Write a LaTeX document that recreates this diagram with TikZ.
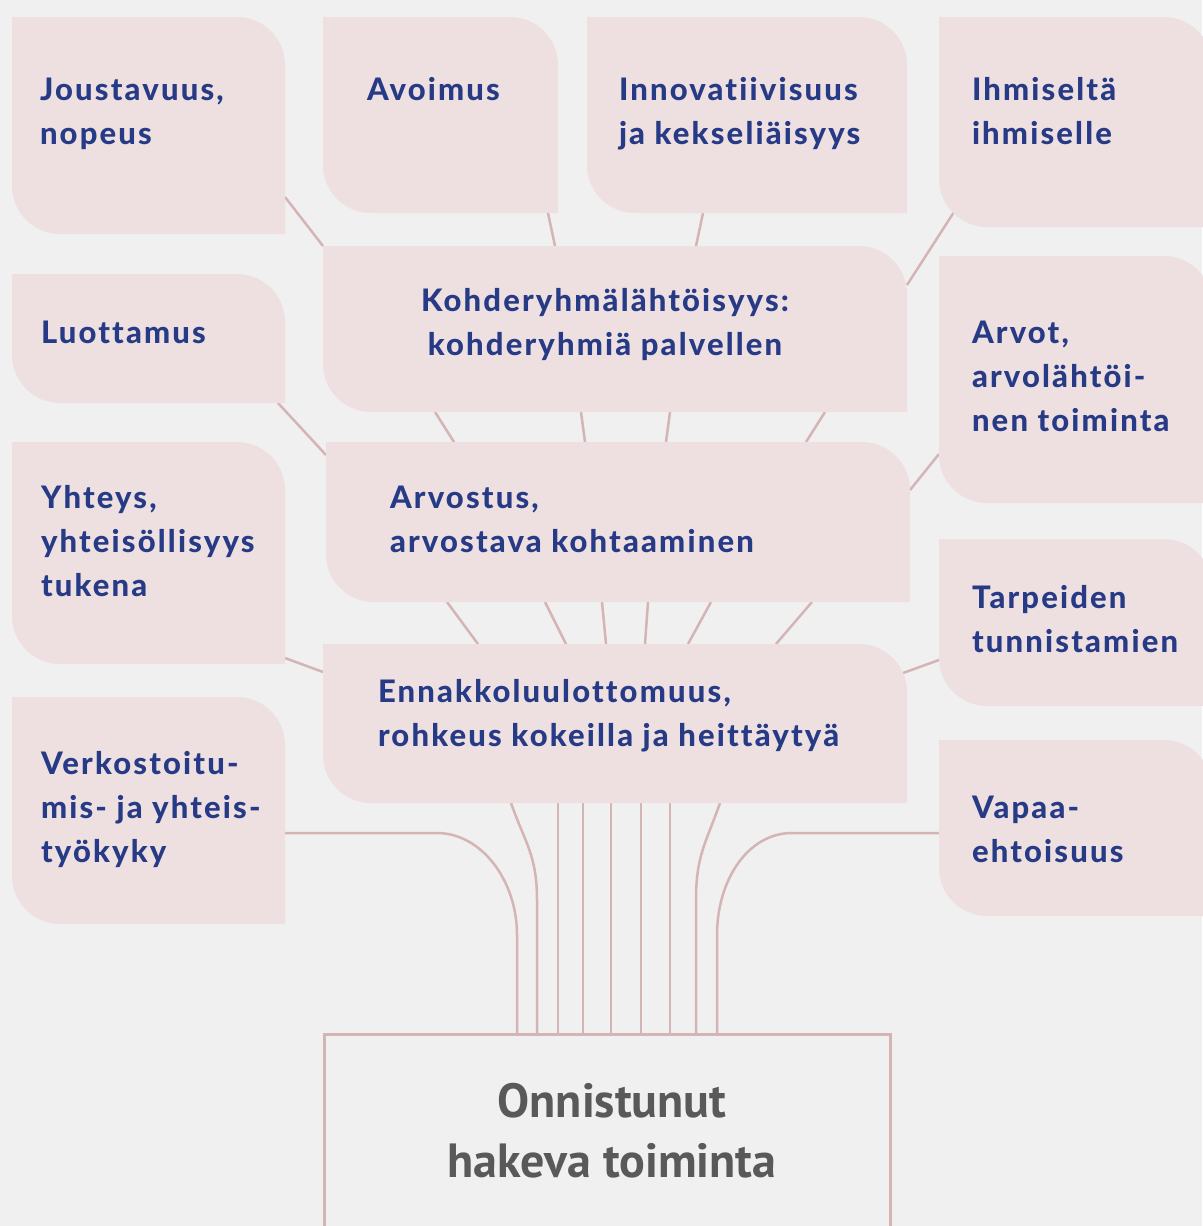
\documentclass[tikz,border=0pt]{standalone}
\usepackage{fontspec}
\setmainfont{Lato}[LetterSpace=7,Ligatures=NoCommon,BoldFont={Lato Heavy}]
\newfontfamily\onnfont{PT Sans}
\usetikzlibrary{calc}
\definecolor{bg}{HTML}{F0F0F0}
\definecolor{boxfill}{HTML}{EEE0E1}
\definecolor{txtblue}{HTML}{263A86}
\definecolor{conn}{HTML}{D5B4B6}
\definecolor{onngray}{HTML}{595959}
\newcommand\leafshape[1]{%
  \fill[boxfill] (#1.north west) -- ([xshift=-48pt]#1.north east)
    arc[start angle=90,end angle=0,radius=48pt] -- (#1.south east)
    -- ([xshift=48pt]#1.south west)
    arc[start angle=270,end angle=180,radius=48pt] -- cycle;}
\begin{document}
\begin{tikzpicture}[x=1pt,y=-1pt,
  boxn/.style={inner sep=0pt,outer sep=0pt,anchor=north west,draw=none},
  lbl/.style={inner sep=0pt,outer sep=0pt,anchor=base west,align=left,text=txtblue,
    font=\fontsize{31}{44}\selectfont\bfseries},
  lblc/.style={lbl,anchor=base,align=center},
  wire/.style={draw=conn,line width=2.5pt}]
\fill[bg] (0,0) rectangle (1202,1226);
\useasboundingbox (0,0) rectangle (1202,1226);
% box frames
\node[boxn,minimum width=273pt,minimum height=217pt] (jou) at (12,17) {};
\node[boxn,minimum width=235pt,minimum height=196pt] (avo) at (323,17) {};
\node[boxn,minimum width=320pt,minimum height=196pt] (inn) at (587,17) {};
\node[boxn,minimum width=273pt,minimum height=210pt] (ihm) at (939,17) {};
\node[boxn,minimum width=273pt,minimum height=129pt] (luo) at (12,274) {};
\node[boxn,minimum width=584pt,minimum height=166pt] (koh) at (323,246) {};
\node[boxn,minimum width=273pt,minimum height=247pt] (arv) at (939,256) {};
\node[boxn,minimum width=584pt,minimum height=160pt] (ars) at (326,442) {};
\node[boxn,minimum width=273pt,minimum height=222pt] (yht) at (12,442) {};
\node[boxn,minimum width=273pt,minimum height=167pt] (tar) at (939,539) {};
\node[boxn,minimum width=584pt,minimum height=159pt] (enn) at (323,644) {};
\node[boxn,minimum width=273pt,minimum height=227pt] (ver) at (12,697) {};
\node[boxn,minimum width=273pt,minimum height=176pt] (vap) at (939,740) {};
\node[boxn,minimum width=566pt,minimum height=216pt] (onn) at (324,1034) {};
% connectors
\draw[wire] ($(jou.south east)+(0,-37)$) -- (koh.north west);
\draw[wire] ($(avo.south west)+(225,0)$) -- ($(koh.north west)+(232,0)$);
\draw[wire] ($(inn.south west)+(116,0)$) -- ($(koh.north west)+(373,0)$);
\draw[wire] ($(ihm.south west)+(15,-15)$) -- ($(koh.north east)+(0,39)$);
\draw[wire] ($(luo.south east)+(-7,0)$) -- ($(ars.north west)+(0,13)$);
\draw[wire] ($(koh.south west)+(112,0)$) -- ($(ars.north west)+(128,0)$);
\draw[wire] ($(koh.south west)+(258,0)$) -- ($(ars.north west)+(259,0)$);
\draw[wire] ($(koh.south west)+(347,0)$) -- ($(ars.north west)+(340,0)$);
\draw[wire] ($(koh.south west)+(502,0)$) -- ($(ars.north west)+(480,0)$);
\draw[wire] ($(arv.north west)+(0,198)$) -- ($(ars.north east)+(0,48)$);
\draw[wire] ($(ars.south west)+(121,0)$) -- ($(enn.north west)+(155,0)$);
\draw[wire] ($(ars.south west)+(219,0)$) -- ($(enn.north west)+(243,0)$);
\draw[wire] ($(ars.south west)+(276,0)$) -- ($(enn.north west)+(283,0)$);
\draw[wire] ($(ars.south west)+(322,0)$) -- ($(enn.north west)+(322,0)$);
\draw[wire] ($(ars.south west)+(385,0)$) -- ($(enn.north west)+(365,0)$);
\draw[wire] ($(ars.south west)+(486,0)$) -- ($(enn.north west)+(453,0)$);
\draw[wire] ($(yht.south east)+(0,-6)$) -- ($(enn.north west)+(0,28)$);
\draw[wire] ($(tar.north west)+(0,121)$) -- ($(enn.north east)+(-4,29)$);
\draw[wire] ($(ver.south east)+(0,-91)$) -- ++(152,0)
   .. controls +(44,0) and +(0,-55) .. ++(80,102) -- ($(onn.north west)+(193,0)$);
\draw[wire] ($(enn.south west)+(188,0)$) .. controls +(14,40) and +(0,-45) ..
   ($(onn.north west)+(213,-134)$) -- ($(onn.north west)+(213,0)$);
\foreach \a/\b in {235/234,260/259,288/287,318/317,347/346}
  \draw[wire] ($(enn.south west)+(\a,0)$) -- ($(onn.north west)+(\b,0)$);
\draw[wire] ($(enn.south west)+(397,0)$) .. controls +(-14,40) and +(0,-45) ..
   ($(onn.north west)+(372,-134)$) -- ($(onn.north west)+(372,0)$);
\draw[wire] ($(vap.south west)+(0,-83)$) -- ++(-147,0)
   .. controls +(-44,0) and +(0,-55) .. ++(-75,102) -- ($(onn.north west)+(393,0)$);
% leaf boxes
\foreach \n in {jou,avo,inn,ihm,luo,koh,arv,ars,yht,tar,enn,ver,vap} {\leafshape{\n}}
\draw[conn,line width=3pt] (onn.south west) -- (onn.north west) -- (onn.north east) -- (onn.south east);
% labels (anchor = baseline of the last line)
\node[lbl] (joutxt) at (40,144) {Joustavuus,\\nopeus};
\node[lbl] (avotxt) at (367,100) {Avoimus};
\node[lbl] (inntxt) at (619,144) {Innovatiivisuus\\ja kekseliäisyys};
\node[lbl] (ihmtxt) at (972,144) {Ihmiseltä\\ihmiselle};
\node[lbl] (luotxt) at (41,343) {Luottamus};
\node[lblc] (kohtxt) at (605,355) {Kohderyhmälähtöisyys:\\kohderyhmiä palvellen};
\node[lbl] (arvtxt) at (972,431) {Arvot,\\arvolähtöi-\\nen toiminta};
\node[lbl] (arstxt) at (390,552) {Arvostus,\\arvostava kohtaaminen};
\node[lbl] (yhttxt) at (41,596) {Yhteys,\\yhteisöllisyys\\tukena};
\node[lbl] (tartxt) at (972,652) {Tarpeiden\\tunnistamien};
\node[lbl] (enntxt) at (378,746) {Ennakkoluulottomuus,\\rohkeus kokeilla ja heittäytyä};
\node[lbl] (vertxt) at (41,862) {Verkostoitu-\\mis- ja yhteis-\\työkyky};
\node[lbl] (vaptxt) at (972,862) {Vapaa-\\ehtoisuus};
\node[anchor=base,align=center,inner sep=0pt,text=onngray,
  font=\onnfont\fontsize{48}{60}\selectfont\bfseries] (onntxt) at (612,1177) {Onnistunut\\hakeva toiminta};
\end{tikzpicture}
\end{document}
